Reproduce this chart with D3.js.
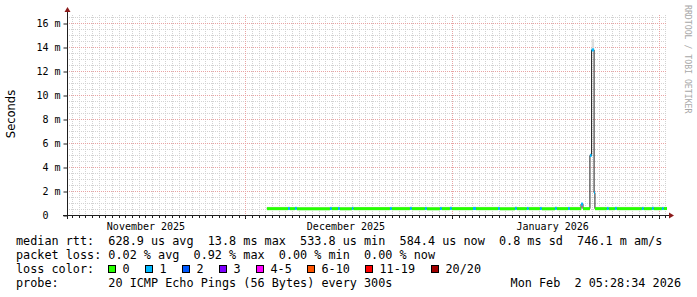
<!DOCTYPE html>
<html>
<head>
<meta charset="utf-8">
<script src="https://cdn.jsdelivr.net/npm/d3@7"></script>
<style>
  body { margin: 0; background: #fff; }
  svg text { white-space: pre; }
</style>
</head>
<body>
<svg id="chart" width="697" height="297"></svg>
<script>
// ---- data ----
const endTime = new Date(2026, 1, 2, 5, 28, 34);
const spanDays = 90;

const sampleTimes = [
  '2025-12-04 05:00', '2025-12-07 09:00', '2025-12-07 16:00', '2025-12-08 10:00',
  '2025-12-08 17:00', '2025-12-13 16:00', '2025-12-13 23:00', '2025-12-14 21:00',
  '2025-12-15 04:00', '2025-12-16 23:00', '2025-12-17 05:00', '2025-12-22 16:00',
  '2025-12-22 23:00', '2025-12-25 16:00', '2025-12-25 23:00', '2025-12-27 22:00',
  '2025-12-28 05:00', '2025-12-30 04:00', '2025-12-30 11:00', '2025-12-31 16:00',
  '2025-12-31 23:00', '2026-01-04 03:00', '2026-01-04 14:00', '2026-01-07 21:00',
  '2026-01-08 04:00', '2026-01-10 10:00', '2026-01-10 17:00', '2026-01-12 05:00',
  '2026-01-12 12:00', '2026-01-14 04:00', '2026-01-14 11:00', '2026-01-16 10:00',
  '2026-01-16 17:00', '2026-01-18 09:00', '2026-01-18 16:00', '2026-01-20 08:00',
  '2026-01-20 15:00', '2026-01-21 16:00', '2026-01-21 22:00', '2026-01-22 07:00',
  '2026-01-22 10:00', '2026-01-24 05:00', '2026-01-24 12:00', '2026-01-25 10:00',
  '2026-01-25 17:00', '2026-01-29 11:00', '2026-01-29 18:00', '2026-01-30 23:00',
  '2026-01-31 06:00', '2026-02-01 11:00', '2026-02-01 18:00'
];
// median rtt in ms
const medianMs = [
  0.57, 0.58, 0.57, 0.59, 0.56, 0.58, 0.57, 0.58, 0.56, 0.59, 0.57, 0.58, 0.57,
  0.59, 0.57, 0.58, 0.56, 0.58, 0.57, 0.59, 0.57, 0.58, 0.57, 0.58, 0.56, 0.59,
  0.57, 0.58, 0.57, 0.58, 0.56, 0.59, 0.57, 0.58, 0.57, 0.95, 0.57, 5.0, 13.8,
  1.9, 0.57, 0.58, 0.57, 0.59, 0.57, 0.58, 0.57, 0.59, 0.57, 0.58, 0.58
];
// lost pings out of 20
const lossCount = [
  0, 1, 0, 1, 0, 1, 0, 1, 0, 1, 0, 1, 0, 1, 0, 1, 0, 1, 0, 1, 0, 1, 0, 1, 0, 1,
  0, 1, 0, 1, 0, 1, 0, 1, 0, 1, 0, 1, 1, 1, 0, 1, 0, 1, 0, 1, 0, 1, 0, 1, 0
];
// slowest ping (top of the smoke) in ms
const smokeTopMs = [
  0.72, 0.74, 0.71, 0.73, 0.70, 0.74, 0.72, 0.73, 0.70, 0.75, 0.71, 0.73, 0.72,
  0.74, 0.71, 0.73, 0.70, 0.74, 0.72, 0.75, 0.71, 0.73, 0.72, 0.74, 0.70, 0.75,
  0.71, 0.73, 0.72, 0.74, 0.70, 0.75, 0.71, 0.73, 0.72, 1.05, 0.71, 5.2, 14.7,
  2.1, 0.72, 0.74, 0.71, 0.73, 0.72, 0.74, 0.71, 0.75, 0.72, 0.73, 0.72
];

const yTicks = [0, 2, 4, 6, 8, 10, 12, 14, 16];
const monthLabels = ['November 2025', 'December 2025', 'January 2026'];
const monthStarts = ['2025-12-01', '2026-01-01', '2026-02-01'];
const lossLevels = ['0', '1', '2', '3', '4-5', '6-10', '11-19', '20/20'];
const lossUpper = [0, 1, 2, 3, 5, 10, 19, 20];
const lossColors = ['#26ff00', '#00b8ff', '#0059ff', '#7e00ff', '#ff00ff', '#ff5500', '#ff0000', '#a10000'];

const statLines = [
  'median rtt:  628.9 us avg  13.8 ms max  533.8 us min  584.4 us now  0.8 ms sd  746.1 m am/s',
  'packet loss: 0.02 % avg  0.92 % max  0.00 % min  0.00 % now'
];
const probeText = 'probe:       20 ICMP Echo Pings (56 Bytes) every 300s';
const stampText = 'Mon Feb  2 05:28:34 2026';

// ---- layout ----
const svg = d3.select('#chart');
const plot = { left: 67, right: 667, top: 15, bottom: 215 };
const mono = 'DejaVu Sans Mono, monospace';

const parse = d3.timeParse('%Y-%m-%d %H:%M');
const parseDay = d3.timeParse('%Y-%m-%d');
const startTime = d3.timeDay.offset(endTime, -spanDays);

const xScale = d3.scaleTime()
  .domain([startTime, endTime])
  .range([plot.left, plot.right]);

const yScale = d3.scaleLinear()
  .domain([0, (plot.bottom - plot.top) / 12])
  .range([plot.bottom + 0.5, plot.top + 0.5]);

const samples = sampleTimes.map((t, i) => ({
  t0: parse(t),
  t1: i + 1 < sampleTimes.length ? parse(sampleTimes[i + 1]) : endTime,
  median: medianMs[i],
  top: smokeTopMs[i],
  level: lossUpper.findIndex(u => lossCount[i] <= u)
}));

// ---- grid ----
const grid = svg.append('g');
const minorColor = '#d2d2d2';
const majorColor = '#e8a3a3';

const minorY = d3.range(0, 16.6, 0.5).filter(v => v % 2 !== 0);
grid.selectAll('.hminor')
  .data(minorY)
  .join('line')
  .attr('x1', plot.left)
  .attr('x2', plot.right)
  .attr('y1', d => Math.round(yScale(d) - 0.5) + 0.5)
  .attr('y2', d => Math.round(yScale(d) - 0.5) + 0.5)
  .attr('stroke', minorColor)
  .attr('stroke-dasharray', '1,1');

const days = d3.timeDay.range(d3.timeDay.ceil(startTime), endTime)
  .filter(d => d.getDate() !== 1);
grid.selectAll('.vminor')
  .data(days)
  .join('line')
  .attr('x1', d => Math.round(xScale(d)) + 0.5)
  .attr('x2', d => Math.round(xScale(d)) + 0.5)
  .attr('y1', plot.top)
  .attr('y2', plot.bottom)
  .attr('stroke', minorColor)
  .attr('stroke-dasharray', '1,1');

grid.selectAll('.hmajor')
  .data(yTicks.filter(d => d > 0))
  .join('line')
  .attr('x1', plot.left)
  .attr('x2', plot.right)
  .attr('y1', d => Math.round(yScale(d) - 0.5) + 0.5)
  .attr('y2', d => Math.round(yScale(d) - 0.5) + 0.5)
  .attr('stroke', majorColor)
  .attr('stroke-dasharray', '1,1');

grid.selectAll('.vmajor')
  .data(monthStarts.map(parseDay))
  .join('line')
  .attr('x1', d => Math.round(xScale(d)) + 0.5)
  .attr('x2', d => Math.round(xScale(d)) + 0.5)
  .attr('y1', plot.top)
  .attr('y2', plot.bottom)
  .attr('stroke', majorColor)
  .attr('stroke-dasharray', '1,1');

// ---- smoke ----
svg.append('g')
  .selectAll('rect')
  .data(samples)
  .join('rect')
  .attr('x', d => xScale(d.t0))
  .attr('width', d => xScale(d.t1) - xScale(d.t0))
  .attr('y', d => yScale(d.top))
  .attr('height', d => yScale(d.median) - yScale(d.top))
  .attr('fill', '#dcdcdc');

// ---- median: black step line under loss-coloured bands ----
const stepPoints = samples.map(d => [d.t0, d.median]);
stepPoints.push([endTime, medianMs[medianMs.length - 1]]);

svg.append('path')
  .datum(stepPoints)
  .attr('fill', 'none')
  .attr('stroke', '#202020')
  .attr('stroke-width', 1)
  .attr('d', d3.line()
    .curve(d3.curveStepAfter)
    .x(d => xScale(d[0]))
    .y(d => yScale(d[1])));

svg.append('g')
  .selectAll('rect')
  .data(samples)
  .join('rect')
  .attr('x', d => xScale(d.t0))
  .attr('width', d => xScale(d.t1) - xScale(d.t0))
  .attr('y', d => yScale(d.median) - 1.5)
  .attr('height', 3)
  .attr('fill', d => lossColors[d.level]);

// ---- axes ----
const yAxis = d3.axisLeft(yScale)
  .tickValues(yTicks)
  .tickSize(4)
  .tickPadding(3)
  .tickFormat(d => (d === 0 ? '0  ' : d + ' m'));

svg.append('g')
  .attr('transform', 'translate(' + (plot.left + 0.5) + ',0)')
  .call(yAxis)
  .call(g => g.select('.domain').remove())
  .call(g => g.selectAll('line').attr('stroke', '#1f1f1f'))
  .call(g => g.selectAll('text')
    .attr('font-family', mono)
    .attr('font-size', '10px')
    .attr('fill', '#000'));

const monthMids = monthStarts.map(parseDay)
  .map(d => d3.timeDay.offset(d3.timeMonth.offset(d, -1), 15));

const xAxis = d3.axisBottom(xScale)
  .tickValues(monthMids)
  .tickSize(0)
  .tickPadding(7)
  .tickFormat((d, i) => monthLabels[i]);

svg.append('g')
  .attr('transform', 'translate(0,' + (plot.bottom + 0.5) + ')')
  .call(xAxis)
  .call(g => g.select('.domain').remove())
  .call(g => g.selectAll('text')
    .attr('font-family', mono)
    .attr('font-size', '10px')
    .attr('fill', '#000'));

svg.append('g')
  .selectAll('line')
  .data(d3.timeDay.range(d3.timeDay.ceil(startTime), endTime))
  .join('line')
  .attr('x1', d => Math.round(xScale(d)) + 0.5)
  .attr('x2', d => Math.round(xScale(d)) + 0.5)
  .attr('y1', plot.bottom)
  .attr('y2', d => plot.bottom + (d.getDate() === 1 ? 4 : 3))
  .attr('stroke', '#1f1f1f');

svg.append('line')
  .attr('x1', plot.left - 4)
  .attr('x2', plot.right + 2)
  .attr('y1', plot.bottom + 0.5)
  .attr('y2', plot.bottom + 0.5)
  .attr('stroke', '#1f1f1f');

svg.append('line')
  .attr('x1', plot.left + 0.5)
  .attr('x2', plot.left + 0.5)
  .attr('y1', plot.bottom + 4)
  .attr('y2', plot.top - 3)
  .attr('stroke', '#1f1f1f');

svg.append('path')
  .attr('d', 'M' + (plot.left - 2.5) + ',' + (plot.top - 3) + 'L' + (plot.left + 3.5) + ',' + (plot.top - 3) +
    'L' + (plot.left + 0.5) + ',' + (plot.top - 8) + 'Z')
  .attr('fill', '#8b1a1a');

svg.append('path')
  .attr('d', 'M' + (plot.right + 2) + ',' + (plot.bottom - 2.5) + 'L' + (plot.right + 2) + ',' + (plot.bottom + 3.5) +
    'L' + (plot.right + 7) + ',' + (plot.bottom + 0.5) + 'Z')
  .attr('fill', '#8b1a1a');

svg.append('text')
  .attr('transform', 'translate(15,114) rotate(-90)')
  .attr('text-anchor', 'middle')
  .attr('font-family', 'DejaVu Sans, sans-serif')
  .attr('font-size', '11.5px')
  .text('Seconds');

svg.append('text')
  .attr('transform', 'translate(685,5) rotate(90)')
  .attr('font-family', mono)
  .attr('font-size', '8.2px')
  .attr('fill', '#a8a8a8')
  .text('RRDTOOL / TOBI OETIKER');

// ---- legend ----
const legendSize = '11.8px';
const lineY = [245, 259, 273, 287];

svg.append('g')
  .selectAll('text')
  .data(statLines)
  .join('text')
  .attr('x', 16)
  .attr('y', (d, i) => lineY[i])
  .attr('font-family', mono)
  .attr('font-size', legendSize)
  .text(d => d);

svg.append('text')
  .attr('x', 16)
  .attr('y', lineY[2])
  .attr('font-family', mono)
  .attr('font-size', legendSize)
  .text('loss color:');

let boxX = 108.5;
lossLevels.forEach((label, i) => {
  svg.append('rect')
    .attr('x', boxX)
    .attr('y', lineY[2] - 7.5)
    .attr('width', 7)
    .attr('height', 7)
    .attr('fill', lossColors[i])
    .attr('stroke', '#000');
  const t = svg.append('text')
    .attr('x', boxX + 14)
    .attr('y', lineY[2])
    .attr('font-family', mono)
    .attr('font-size', legendSize)
    .text(label);
  boxX = Math.round(boxX + 14 + t.node().getComputedTextLength() + 15.5) + 0.5;
});

svg.append('text')
  .attr('x', 16)
  .attr('y', lineY[3])
  .attr('font-family', mono)
  .attr('font-size', legendSize)
  .text(probeText);

svg.append('text')
  .attr('x', 681)
  .attr('y', lineY[3])
  .attr('text-anchor', 'end')
  .attr('font-family', mono)
  .attr('font-size', legendSize)
  .text(stampText);
</script>
</body>
</html>
